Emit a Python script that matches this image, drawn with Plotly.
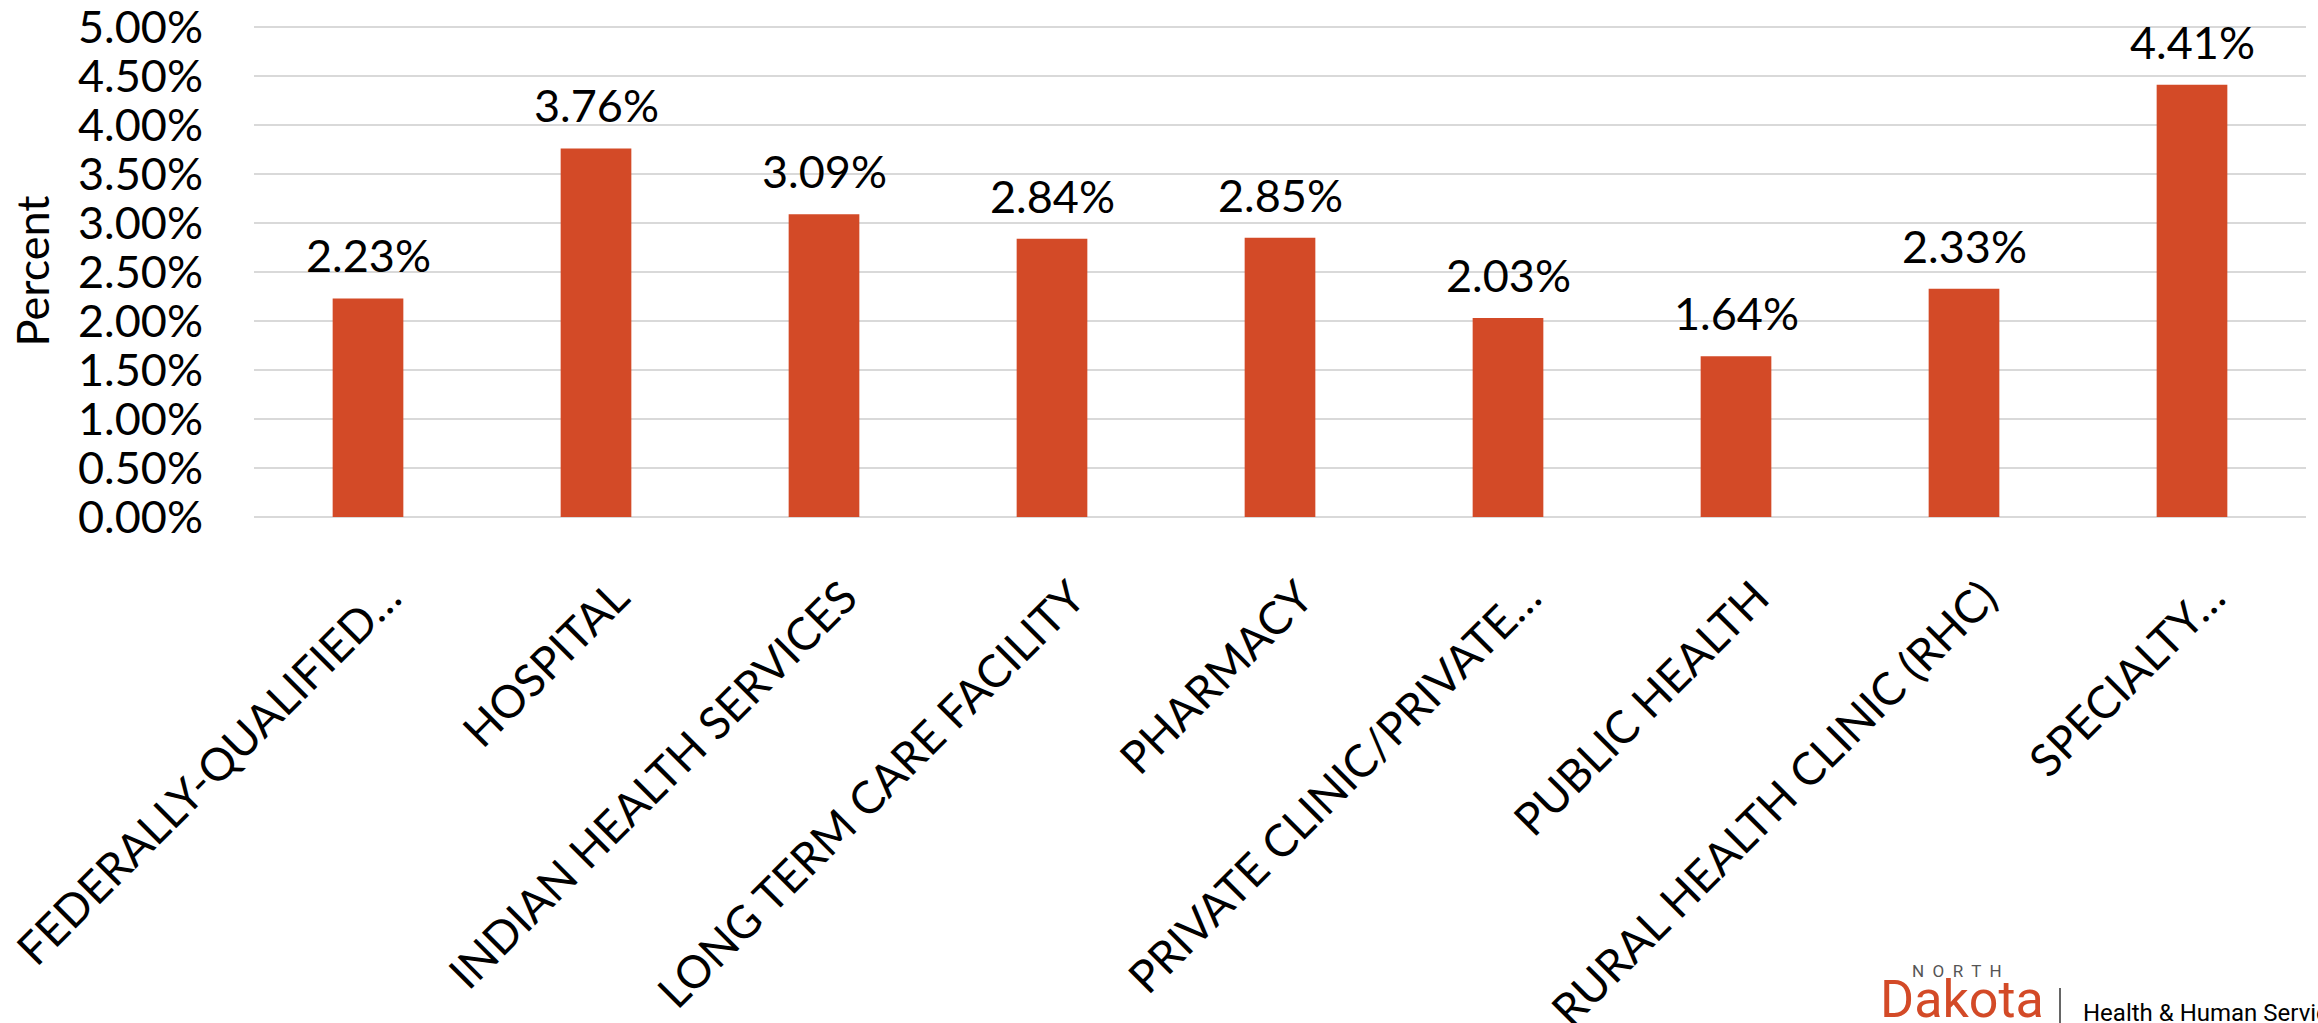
import plotly.graph_objects as go

categories = [
    "FEDERALLY-QUALIFIED…",
    "HOSPITAL",
    "INDIAN HEALTH SERVICES",
    "LONG TERM CARE FACILITY",
    "PHARMACY",
    "PRIVATE CLINIC/PRIVATE…",
    "PUBLIC HEALTH",
    "RURAL HEALTH CLINIC (RHC)",
    "SPECIALTY…",
]
values = [0.0223, 0.0376, 0.0309, 0.0284, 0.0285, 0.0203, 0.0164, 0.0233, 0.0441]
y_ticks = [0.0, 0.005, 0.01, 0.015, 0.02, 0.025, 0.03, 0.035, 0.04, 0.045, 0.05]
y_title = "Percent"

W, H = 2318, 1023
L, R, T, B = 254, 12, 25, 506
BAR_COLOR = "#D34A27"
FONT = "Lato, Open Sans, sans-serif"
FS = 45
LOGO_FONT = "Roboto, sans-serif"

def px_x(p):
    return (p - L) / (W - L - R)

def px_y(p):
    return (H - B - p) / (H - B - T)

fig = go.Figure()
fig.add_trace(go.Bar(
    x=categories, y=values, width=0.31,
    marker=dict(color=BAR_COLOR, line=dict(width=0)),
    hoverinfo="skip",
))

annotations = []
for c, v in zip(categories, values):
    annotations.append(dict(
        x=c, y=v, xref="x", yref="y", text=f"{v*100:.2f}%",
        showarrow=False, yanchor="bottom", yshift=14,
        font=dict(family=FONT, size=FS, color="#000000"),
    ))

# logo
annotations += [
    dict(xref="paper", yref="paper", x=px_x(1957), y=px_y(971), text="N  O  R  T  H",
         showarrow=False, xanchor="center", yanchor="middle",
         font=dict(family=LOGO_FONT, size=17, color="#555555")),
    dict(xref="paper", yref="paper", x=px_x(1878), y=px_y(967), text="Dakota",
         showarrow=False, xanchor="left", yanchor="top",
         font=dict(family=LOGO_FONT, size=52, color=BAR_COLOR)),
    dict(xref="paper", yref="paper", x=px_x(2081), y=px_y(1029), text="Health &amp; Human Services",
         showarrow=False, xanchor="left", yanchor="bottom",
         font=dict(family=LOGO_FONT, size=24, color="#000000")),
]

fig.add_shape(type="line", xref="paper", yref="paper",
              x0=px_x(2060), x1=px_x(2060), y0=px_y(988), y1=px_y(1023),
              line=dict(color="#333333", width=1.5))

fig.update_layout(
    width=W, height=H,
    margin=dict(l=L, r=R, t=T, b=B, autoexpand=False),
    paper_bgcolor="#ffffff", plot_bgcolor="#ffffff",
    showlegend=False,
    annotations=annotations,
    font=dict(family=FONT, size=FS, color="#000000"),
)
fig.update_yaxes(
    range=[0, 0.0502], tickvals=y_ticks, tickformat=".2%",
    showgrid=True, gridcolor="#d9d9d9", gridwidth=2,
    zeroline=True, zerolinecolor="#d9d9d9", zerolinewidth=2,
    showline=False, ticks="", ticklabelstandoff=50, ticklabeloverflow="allow",
    title=dict(text=y_title, standoff=14, font=dict(family=FONT, size=FS, color="#000000")),
    tickfont=dict(family=FONT, size=FS, color="#000000"),
)
fig.update_xaxes(
    tickangle=-45, showgrid=False, showline=False, ticks="",
    tickfont=dict(family=FONT, size=FS, color="#000000"),
    ticklabelstandoff=44, ticklabelshift=20,
)

fig.write_html("out.html")
